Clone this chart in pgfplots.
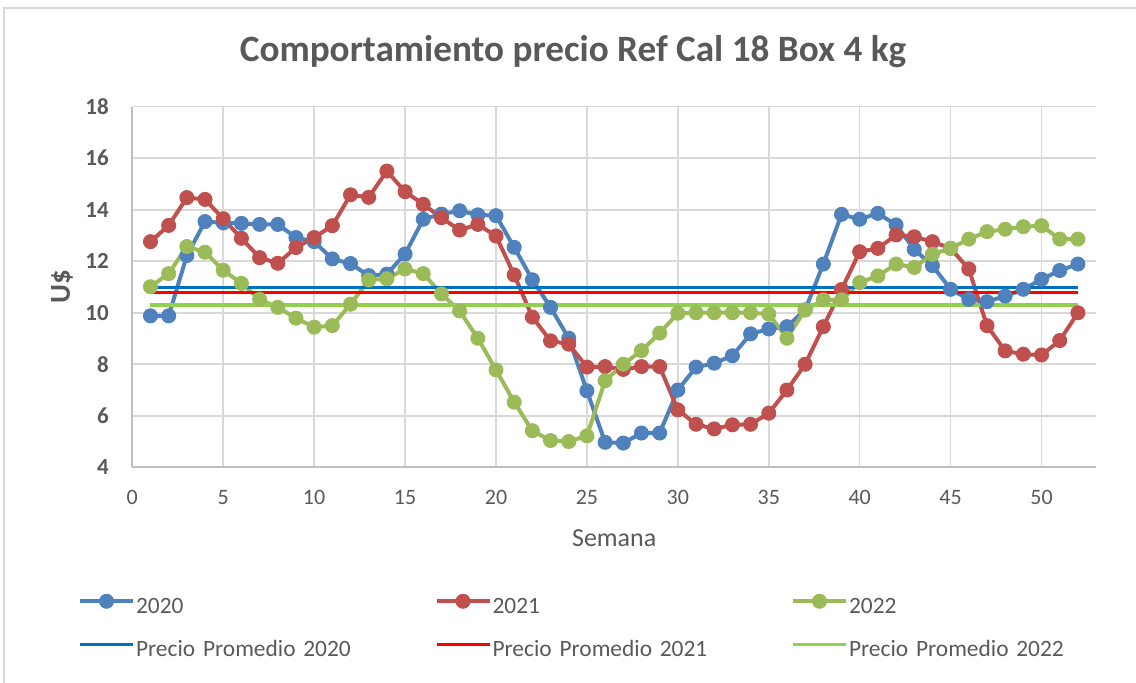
\documentclass[border=0pt]{standalone}
\usepackage{pgfplots}
\pgfplotsset{compat=1.18}
\usepackage{fontspec}
\setmainfont{Carlito}
\definecolor{c20}{HTML}{4F81BD}
\definecolor{c21}{HTML}{C0504D}
\definecolor{c22}{HTML}{9BBB59}
\definecolor{a20}{HTML}{0070C0}
\definecolor{a21}{HTML}{FF0000}
\definecolor{a22}{HTML}{92D050}
\definecolor{txt}{HTML}{595959}
\definecolor{gridc}{HTML}{D9D9D9}
\definecolor{axc}{HTML}{BFBFBF}
\begin{document}
\begin{tikzpicture}
\useasboundingbox (-66.15pt,-107.85pt) rectangle (501.85pt,233.65pt);
\draw[gridc, line width=0.6pt] (-64.15pt,-107.85pt) -- (-64.15pt,229.65pt) -- (501.85pt,229.65pt);
\begin{axis}[
  scale only axis,
  width=481.9pt, height=180.3pt,
  xmin=0, xmax=53, ymin=4, ymax=18,
  xtick={0,5,...,50}, ytick={4,6,...,18},
  axis x line*=bottom, axis y line*=left,
  axis line style={draw=axc, line width=0.8pt, -},
  major tick length=0pt,
  grid=major,
  major grid style={draw=gridc, line width=0.8pt},
  /pgf/number format/assume math mode=true,
  xticklabel style={font=\fontsize{11}{13}\selectfont, text=txt, inner sep=0pt, anchor=north, yshift=-11.3pt},
  yticklabel style={font=\bfseries\fontsize{11.5}{13}\selectfont, text=txt, inner sep=0pt, anchor=east, xshift=-11.6pt},
  title={Comportamiento precio Ref Cal 18 Box 4 kg},
  title style={at={(0.4573,1.0915)}, anchor=base, font=\bfseries\fontsize{18.6}{21}\selectfont, text=txt, inner sep=0pt},
  xlabel={Semana},
  xlabel style={at={(0.5,-0.196)}, anchor=center, font=\fontsize{13}{15}\selectfont, text=txt, inner sep=0pt},
  ylabel={U\$},
  ylabel style={at={(-0.073,0.5)}, anchor=center, rotate=0, font=\bfseries\fontsize{14.5}{16}\selectfont, text=txt, inner sep=0pt},
  legend columns=3,
  legend image code/.code={\draw[mark repeat=2,mark phase=2,#1] plot coordinates {(0pt,3.5pt) (13.25pt,3.5pt) (26.5pt,3.5pt)};},
  legend style={
    at={(-0.0563,-0.4457)}, anchor=west, draw=none, fill=none,
    inner sep=0pt, outer sep=0pt, row sep=11pt,
    /tikz/every odd column/.append style={column sep=0.5pt},
    nodes={inner sep=0pt, text width=149.25pt, align=left, text height=8pt, text depth=2.5pt, font=\fontsize{11.7}{13}\selectfont, text=txt},
  },
  series/.style={color=#1, line width=2pt, mark=*, mark size=3.5pt, mark options={solid, fill=#1, draw=#1, line width=0.5pt}},
  avg/.style={color=#1, line width=1.6pt, mark=none},
]
\addplot[series=c20] coordinates {
(1,9.88) (2,9.88) (3,12.22) (4,13.54) (5,13.49) (6,13.47) (7,13.43) (8,13.43) (9,12.92) (10,12.76)
(11,12.09) (12,11.91) (13,11.44) (14,11.50) (15,12.28) (16,13.63) (17,13.83) (18,13.96) (19,13.80) (20,13.77)
(21,12.54) (22,11.28) (23,10.21) (24,9.01) (25,6.97) (26,4.97) (27,4.94) (28,5.33) (29,5.33) (30,7.00)
(31,7.89) (32,8.04) (33,8.33) (34,9.18) (35,9.37) (36,9.46) (37,10.11) (38,11.89) (39,13.82) (40,13.63)
(41,13.86) (42,13.41) (43,12.46) (44,11.83) (45,10.91) (46,10.52) (47,10.43) (48,10.65) (49,10.91) (50,11.30)
(51,11.64) (52,11.89)};
\addlegendentry{2020}
\addplot[series=c21] coordinates {
(1,12.76) (2,13.39) (3,14.47) (4,14.40) (5,13.65) (6,12.89) (7,12.14) (8,11.92) (9,12.53) (10,12.92)
(11,13.38) (12,14.58) (13,14.48) (14,15.50) (15,14.70) (16,14.21) (17,13.69) (18,13.21) (19,13.43) (20,12.98)
(21,11.47) (22,9.83) (23,8.91) (24,8.78) (25,7.89) (26,7.91) (27,7.80) (28,7.91) (29,7.91) (30,6.23)
(31,5.67) (32,5.49) (33,5.65) (34,5.67) (35,6.10) (36,7.00) (37,8.00) (38,9.46) (39,10.90) (40,12.37)
(41,12.50) (42,13.02) (43,12.95) (44,12.76) (45,12.50) (46,11.70) (47,9.50) (48,8.52) (49,8.39) (50,8.36)
(51,8.92) (52,10.00)};
\addlegendentry{2021}
\addplot[series=c22] coordinates {
(1,11.01) (2,11.52) (3,12.57) (4,12.35) (5,11.65) (6,11.14) (7,10.52) (8,10.21) (9,9.79) (10,9.44)
(11,9.50) (12,10.33) (13,11.27) (14,11.32) (15,11.70) (16,11.52) (17,10.73) (18,10.07) (19,9.01) (20,7.78)
(21,6.53) (22,5.42) (23,5.04) (24,5.00) (25,5.22) (26,7.36) (27,8.00) (28,8.53) (29,9.21) (30,9.98)
(31,10.00) (32,10.00) (33,10.00) (34,10.00) (35,9.95) (36,9.01) (37,10.11) (38,10.50) (39,10.50) (40,11.17)
(41,11.43) (42,11.89) (43,11.76) (44,12.27) (45,12.50) (46,12.86) (47,13.15) (48,13.24) (49,13.34) (50,13.38)
(51,12.86) (52,12.86)};
\addlegendentry{2022}
\addplot[avg=a20] coordinates {(1,10.98) (52,10.98)};
\addlegendentry{Precio Promedio 2020}
\addplot[avg=a21] coordinates {(1,10.79) (52,10.79)};
\addlegendentry{Precio Promedio 2021}
\addplot[avg=a22] coordinates {(1,10.30) (52,10.30)};
\addlegendentry{Precio Promedio 2022}
\end{axis}
\end{tikzpicture}
\end{document}
